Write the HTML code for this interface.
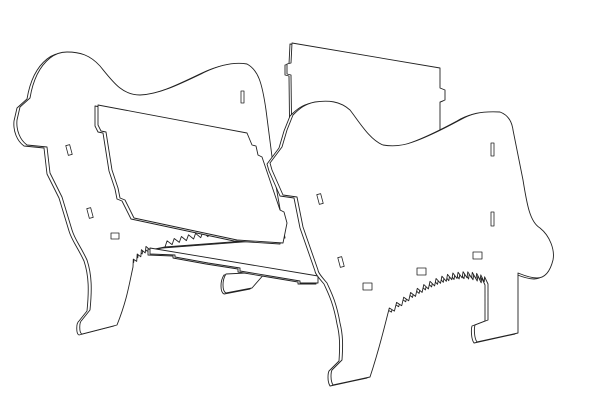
<!DOCTYPE html>
<html><head><style>html,body{margin:0;padding:0;background:#fff;width:600px;height:401px;overflow:hidden}</style></head>
<body>
<svg id="s" width="600" height="401" viewBox="0 0 600 401" xmlns="http://www.w3.org/2000/svg" fill="#fff" stroke="#222" stroke-width="0.9" stroke-linejoin="round">
<defs>
<path id="bp" d="M292,43 L440,68 L440,88 L445,90 L445,100 L440,102 L440,160 L292,160 L291,75 L287,74 L287,64 L291,63 Z"/>
<path id="ld" d=""/>
<path id="base" d="M150,248 L318,276 L318,283 L300,283 L300,281 L270,276 L240,271 L240,268 L208,263 L175,257 L175,255 L150,254 Z"/>
<path id="foot" d="M226,274 L266,272 L252,288 L226,293 C222,291 222,280 226,274 Z"/>
<path id="pan" d="M98,105 L247,133 L252,145 L256,146 L258,155 L262,157 L280,210 L284,212 L287,223 L283,243 L237,240 L134,218 L125,200 L120,198 L118,188 L112,170 L106,132 L101,131 L98,125 Z"/>
<path id="rd" d=""/>
</defs>
<use href="#bp" transform="translate(-2,1)"/><use href="#bp"/>
<use href="#ld" transform="translate(-3,1)"/><use href="#ld"/>
<g stroke-width="0.8">
<rect x="241" y="91" width="3" height="12"/>
<rect x="67" y="145" width="4" height="10" transform="rotate(-15 69 150)"/>
<rect x="88" y="208" width="4" height="10" transform="rotate(-15 90 213)"/>
<rect x="111" y="233" width="8" height="6"/>
</g>
<path id="lt" d="" fill="none"/>
<use href="#foot" transform="translate(-2,1)"/><use href="#foot"/>
<use href="#base" transform="translate(-2,1)"/><use href="#base"/>
<use href="#pan" transform="translate(-3,1)"/><use href="#pan"/>
<use href="#rd" transform="translate(-3,1)"/><use href="#rd"/>
<g stroke-width="0.8">
<rect x="491" y="143" width="3" height="13"/>
<rect x="491" y="212" width="3" height="14"/>
<rect x="318" y="194" width="4" height="10" transform="rotate(-15 320 199)"/>
<rect x="339" y="257" width="4" height="10" transform="rotate(-15 341 262)"/>
<rect x="363" y="283" width="9" height="7"/>
<rect x="417" y="268" width="9" height="7"/>
<rect x="473" y="252" width="9" height="7"/>
</g>
</svg>
<script>
function teeth(p0,c,p1,n,h){var s="";for(var i=1;i<=n;i++){var t=i/n;var x=(1-t)*(1-t)*p0[0]+2*(1-t)*t*c[0]+t*t*p1[0];var y=(1-t)*(1-t)*p0[1]+2*(1-t)*t*c[1]+t*t*p1[1];if(i%2==1&&i<n){y-=h;x-=1.5;}s+=" L"+x.toFixed(1)+","+y.toFixed(1);}return s;}
var rd="M315,102 C328,100 340,101 350,110 C360,123 370,140 383,145 C395,147 405,145 413,142 C430,136 447,127 460,120 C470,114 480,111 500,112 C508,115 512,122 513,130 L523,180 C527,205 530,222 540,228 C550,236 555,250 553,260 C550,272 545,278 537,278 C530,278 523,275 518,273 L518,333 L477,342 C474,338 474,328 475,325 L488,320 L488,284"+teeth([488,284],[455,262],[387,317],36,6)+" C380,345 375,362 370,377 L333,385 C330,380 331,372 332,370 L342,360 C343,345 343,335 340,323 C336,300 330,290 327,283 C320,275 318,272 318,270 L303,227 L297,197 L283,195 L272,170 L270,163 L282,147 L287,130 L293,115 C300,108 305,104 315,102 Z";
document.getElementById("rd").setAttribute("d",rd);
var ld="M67,52 C80,52 90,55 100,66 C113,82 122,95 140,95 C160,94 180,84 205,72 C220,65 235,62 247,64 C258,70 262,82 266,110 L275,180 L285,238 L165,247 L150,250"+teeth([150,250],[140,255],[133,267],8,5)+" C129,285 127,300 117,325 L82,334 C79,333 79,322 82,320 L90,310 C92,290 92,275 87,260 C80,245 75,240 72,230 L62,197 L50,173 L47,147 L27,145 C20,140 16,130 17,120 L20,107 L30,98 C33,80 40,66 50,58 C55,54 60,52 67,52 Z";
document.getElementById("ld").setAttribute("d",ld);
document.getElementById("lt").setAttribute("d","M165,247"+teeth([165,247],[190,238],[215,236],14,5));
</script>
</body></html>
